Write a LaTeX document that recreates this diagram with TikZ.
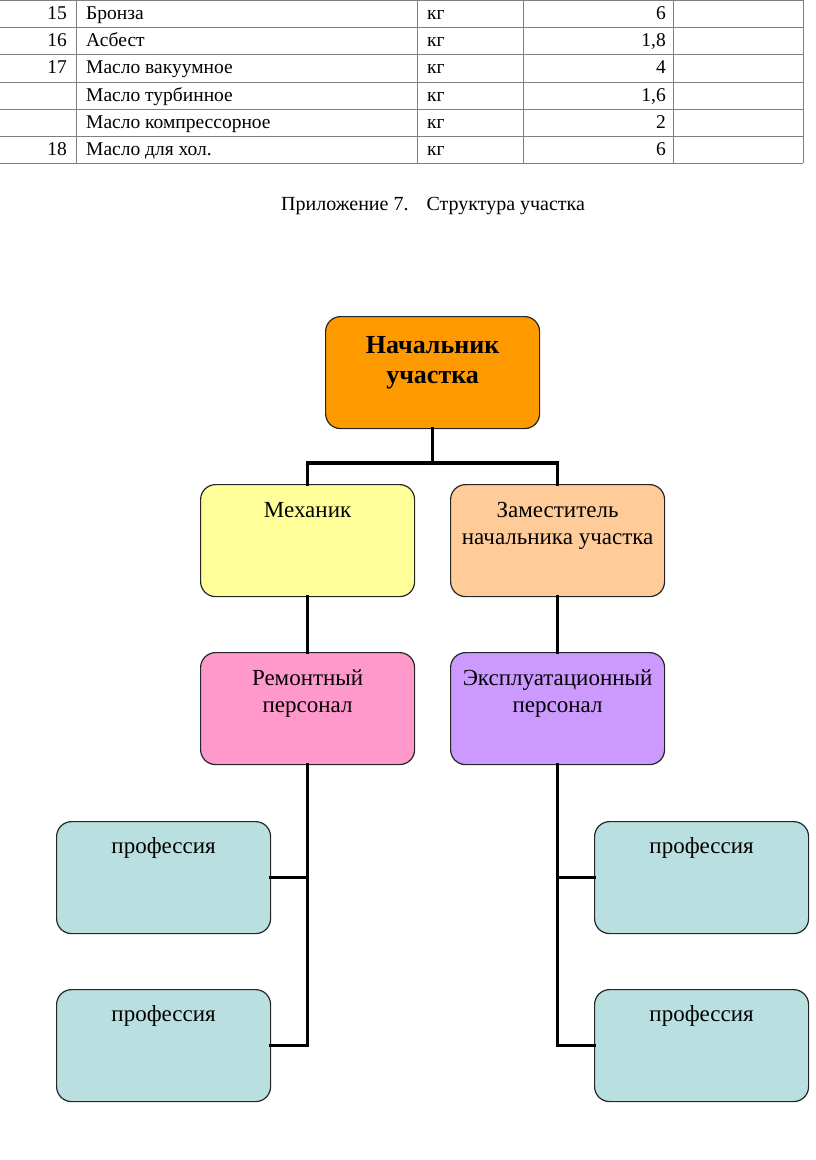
\documentclass[tikz,border=0pt]{standalone}
\usepackage{fontspec}
\setmainfont{Liberation Serif}
\usetikzlibrary{calc}
\definecolor{cOrange}{HTML}{FF9900}
\definecolor{cYellow}{HTML}{FFFF99}
\definecolor{cPeach}{HTML}{FFCC99}
\definecolor{cPink}{HTML}{FF99CC}
\definecolor{cLav}{HTML}{CC99FF}
\definecolor{cAqua}{HTML}{B9DFE1}
\definecolor{cGrid}{HTML}{7F7F7F}
\begin{document}
\begin{tikzpicture}[x=1pt,y=-1pt,
  box/.style={draw=black!85,line width=1.2pt,rounded corners=15pt,minimum width=214pt,minimum height=112pt,anchor=north west,inner sep=0pt},
  boxtext/.style={anchor=base,align=center,inner sep=0pt,font=\fontsize{23}{27}\selectfont},
  conn/.style={line width=3.6pt,line cap=rect},
  grid/.style={draw=cGrid,line width=0.9pt},
  cell/.style={inner sep=0pt,font=\fontsize{19.5}{23}\selectfont}]
\useasboundingbox (0,0) rectangle (816,1160);
% table
\foreach \y in {0,27,54,82,109,136,163} \draw[grid] (0,\y) -- (803,\y);
\foreach \x in {76,417,523,673,803} \draw[grid] (\x,0) -- (\x,163);
\foreach \n/\name/\val/\row in {15/Бронза/6/0,16/Асбест/{1,8}/1,17/Масло вакуумное/4/2,/Масло турбинное/{1,6}/3,/Масло компрессорное/2/4,18/Масло для хол./6/5}{
  \pgfmathsetmacro{\yb}{{0,27,54,82,109,136}[\row]+19.8}
  \node[cell,anchor=base east] (n\row) at (67,\yb) {\n};
  \node[cell,anchor=base west] (t\row) at (86,\yb) {\name};
  \node[cell,anchor=base west] (u\row) at (427,\yb) {кг};
  \node[cell,anchor=base east] (v\row) at (666,\yb) {\val};
}
% caption
\node[inner sep=0pt,anchor=base west,font=\fontsize{20}{24}\selectfont] (cap) at (281,210) {Приложение 7.\hspace{18pt}Структура участка};
% boxes (base anchor of multi-line text = last line)
\node[box,fill=cOrange] (boss) at (325,316) {};
\node[boxtext,font=\fontsize{26}{30}\selectfont\bfseries] (bosst) at ($(boss.north)+(0,67)$) {Начальник\\участка};
\node[box,fill=cYellow] (mech) at (200,484) {};
\node[boxtext] (mecht) at ($(mech.north)+(0,33)$) {Механик};
\node[box,fill=cPeach] (dep) at (450,484) {};
\node[boxtext] (dept) at ($(dep.north)+(0,60)$) {Заместитель\\начальника участка};
\node[box,fill=cPink] (rem) at (200,652) {};
\node[boxtext] (remt) at ($(rem.north)+(0,60)$) {Ремонтный\\персонал};
\node[box,fill=cLav] (exp) at (450,652) {};
\node[boxtext] (expt) at ($(exp.north)+(0,60)$) {Эксплуатационный\\персонал};
\node[box,fill=cAqua] (p1) at (56,821) {};
\node[boxtext] (p1t) at ($(p1.north)+(0,32)$) {профессия};
\node[box,fill=cAqua] (p2) at (56,989) {};
\node[boxtext] (p2t) at ($(p2.north)+(0,32)$) {профессия};
\node[box,fill=cAqua] (p3) at (594,821) {};
\node[boxtext] (p3t) at ($(p3.north)+(0,32)$) {профессия};
\node[box,fill=cAqua] (p4) at (594,989) {};
\node[boxtext] (p4t) at ($(p4.north)+(0,32)$) {профессия};
% connectors
\coordinate (hub) at ($(boss.south)+(0,34)$);
\draw[conn] (boss.south) -- (hub);
\draw[conn] (mech.north) |- (hub) -| (dep.north);
\draw[conn] (mech.south) -- (rem.north);
\draw[conn] (dep.south) -- (exp.north);
\coordinate (lb) at (rem.south |- p2.east);
\coordinate (rb) at (exp.south |- p4.east);
\draw[conn] (rem.south) -- (lb) -- (p2.east);
\draw[conn] (p1.east) -- (rem.south |- p1.east);
\draw[conn] (exp.south) -- (rb) -- (p4.west);
\draw[conn] (p3.west) -- (exp.south |- p3.west);
\end{tikzpicture}
\end{document}
